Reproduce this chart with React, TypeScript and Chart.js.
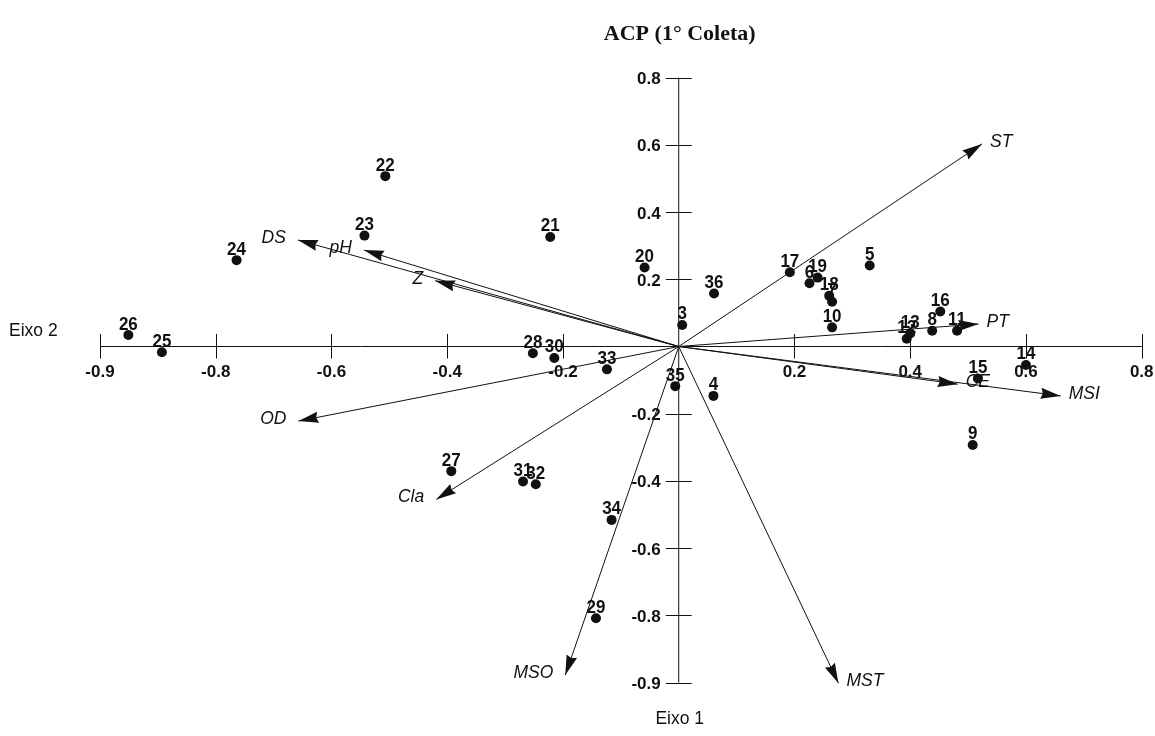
import { useEffect, useRef } from "react";
import { Chart, registerables } from "chart.js";

Chart.register(...registerables);

// Sample scores (horizontal = Eixo 2 direction, vertical = Eixo 1 direction)
const sampleIds = [
  "22", "23", "24", "21", "20", "36", "3", "17", "7", "6", "19", "18", "5", "10", "16",
  "12", "13", "8", "11", "14", "15", "9", "4", "35", "33", "30", "28", "26", "25",
  "27", "31", "32", "34", "29",
];
const sampleX = [
  -0.507, -0.543, -0.764, -0.222, -0.059, 0.061, 0.006, 0.192, 0.265, 0.226, 0.240, 0.260, 0.330, 0.265, 0.452,
  0.394, 0.400, 0.438, 0.481, 0.600, 0.517, 0.508, 0.060, -0.006, -0.124, -0.215, -0.252, -0.951, -0.893,
  -0.393, -0.269, -0.247, -0.116, -0.143,
];
const sampleY = [
  0.507, 0.330, 0.257, 0.326, 0.235, 0.158, 0.064, 0.221, 0.133, 0.188, 0.205, 0.151, 0.241, 0.057, 0.104,
  0.023, 0.039, 0.047, 0.047, -0.055, -0.095, -0.293, -0.147, -0.118, -0.068, -0.034, -0.020, 0.034, -0.017,
  -0.371, -0.402, -0.410, -0.516, -0.809,
];

// Variable loadings drawn as arrows from the origin
const variableNames = ["ST", "PT", "MSI", "CE", "MST", "MSO", "Cla", "OD", "DS", "pH", "Z"];
const variableX = [0.524, 0.518, 0.660, 0.482, 0.276, -0.196, -0.419, -0.657, -0.658, -0.544, -0.421];
const variableY = [0.603, 0.067, -0.147, -0.112, -1.002, -0.978, -0.455, -0.222, 0.317, 0.287, 0.196];

// Axis ticks
const xTickValues = [-1.0, -0.8, -0.6, -0.4, -0.2, 0.2, 0.4, 0.6, 0.8];
const xTickLabels = ["-0.9", "-0.8", "-0.6", "-0.4", "-0.2", "0.2", "0.4", "0.6", "0.8"];
const yTickValues = [0.8, 0.6, 0.4, 0.2, -0.2, -0.4, -0.6, -0.8, -1.0];
const yTickLabels = ["0.8", "0.6", "0.4", "0.2", "-0.2", "-0.4", "-0.6", "-0.8", "-0.9"];

const chartTitle = "ACP (1° Coleta)";
const horizontalAxisName = "Eixo 2";
const verticalAxisName = "Eixo 1";

const SANS = '"Liberation Sans", Arial, Helvetica, sans-serif';
const SERIF = '"Liberation Serif", "Times New Roman", serif';
const INK = "#111";

const biplotPlugin = {
  id: "biplot",
  beforeDatasetsDraw(chart: any) {
    const ctx = chart.ctx as CanvasRenderingContext2D;
    const xs = chart.scales.x;
    const ys = chart.scales.y;
    const ox = xs.getPixelForValue(0);
    const oy = ys.getPixelForValue(0);
    ctx.save();
    ctx.strokeStyle = INK;
    ctx.lineWidth = 1;
    ctx.beginPath();
    ctx.moveTo(xs.getPixelForValue(-1.0), oy);
    ctx.lineTo(xs.getPixelForValue(0.8), oy);
    ctx.moveTo(ox, ys.getPixelForValue(0.8));
    ctx.lineTo(ox, ys.getPixelForValue(-1.0));
    xTickValues.forEach((v) => {
      const px = Math.round(xs.getPixelForValue(v)) + 0.5;
      ctx.moveTo(px, oy - 12.5);
      ctx.lineTo(px, oy + 12);
    });
    yTickValues.forEach((v) => {
      const py = Math.round(ys.getPixelForValue(v)) + 0.5;
      ctx.moveTo(ox - 13, py);
      ctx.lineTo(ox + 13, py);
    });
    ctx.stroke();

    ctx.fillStyle = INK;
    ctx.font = `bold 17px ${SANS}`;
    ctx.textBaseline = "alphabetic";
    ctx.textAlign = "center";
    xTickValues.forEach((v, i) => {
      ctx.fillText(xTickLabels[i], xs.getPixelForValue(v), oy + 30.5);
    });
    ctx.textAlign = "right";
    yTickValues.forEach((v, i) => {
      ctx.fillText(yTickLabels[i], ox - 18, ys.getPixelForValue(v) + 6.5);
    });

    ctx.font = `17.5px ${SANS}`;
    ctx.textAlign = "left";
    ctx.fillText(horizontalAxisName, 9, oy - 10.5);
    ctx.textAlign = "center";
    ctx.fillText(verticalAxisName, ox + 1, 724);

    ctx.font = `bold 22px ${SERIF}`;
    ctx.fillText(chartTitle, ox + 1, 40);
    ctx.restore();
  },
  afterDatasetsDraw(chart: any) {
    const ctx = chart.ctx as CanvasRenderingContext2D;
    const xs = chart.scales.x;
    const ys = chart.scales.y;
    const ox = xs.getPixelForValue(0);
    const oy = ys.getPixelForValue(0);
    ctx.save();
    ctx.fillStyle = INK;

    // arrowheads and variable names
    variableNames.forEach((name, i) => {
      const tx = xs.getPixelForValue(variableX[i]);
      const ty = ys.getPixelForValue(variableY[i]);
      const ang = Math.atan2(ty - oy, tx - ox);
      const c = Math.cos(ang);
      const s = Math.sin(ang);
      const L = 20;
      const W = 5.5;
      ctx.beginPath();
      ctx.moveTo(tx, ty);
      ctx.lineTo(tx - L * c + W * s, ty - L * s - W * c);
      ctx.lineTo(tx - L * c * 0.9, ty - L * s * 0.9);
      ctx.lineTo(tx - L * c - W * s, ty - L * s + W * c);
      ctx.closePath();
      ctx.fill();

      ctx.font = `italic 17.5px ${SANS}`;
      ctx.textBaseline = "alphabetic";
      if (tx >= ox) {
        ctx.textAlign = "left";
        ctx.fillText(name, tx + 8, ty + 3);
      } else {
        ctx.textAlign = "right";
        ctx.fillText(name, tx - 12, ty + 3);
      }
    });

    // sample numbers above their dots
    ctx.font = `bold 17px ${SANS}`;
    ctx.textAlign = "center";
    ctx.textBaseline = "alphabetic";
    sampleIds.forEach((id, i) => {
      const px = xs.getPixelForValue(sampleX[i]);
      const py = ys.getPixelForValue(sampleY[i]);
      ctx.save();
      ctx.translate(px, py - 5.5);
      ctx.scale(1, 1.12);
      ctx.fillText(id, 0, 0);
      ctx.restore();
    });
    ctx.restore();
  },
};

export default function App() {
  const canvasRef = useRef<HTMLCanvasElement | null>(null);

  useEffect(() => {
    const canvas = canvasRef.current;
    if (!canvas) return;

    const vectorSets = variableNames.map((name, i) => ({
      label: name,
      data: [
        { x: 0, y: 0 },
        { x: variableX[i], y: variableY[i] },
      ],
      showLine: true,
      borderColor: INK,
      borderWidth: 1,
      pointRadius: 0,
      fill: false,
      clip: false as const,
      order: 2,
    }));

    const chart = new Chart(canvas, {
      type: "scatter",
      data: {
        datasets: [
          ...vectorSets,
          {
            label: "Amostras",
            data: sampleIds.map((_, i) => ({ x: sampleX[i], y: sampleY[i] })),
            pointRadius: 5,
            pointBackgroundColor: INK,
            pointBorderWidth: 0,
            showLine: false,
            clip: false as const,
            order: 1,
          },
        ],
      },
      options: {
        animation: false,
        responsive: true,
        maintainAspectRatio: false,
        events: [],
        layout: { padding: { left: 100, right: 13.3, top: 77.7, bottom: 53.5 } },
        plugins: {
          legend: { display: false },
          tooltip: { enabled: false },
          title: { display: false },
        },
        scales: {
          x: { type: "linear", min: -1.0, max: 0.8, display: false },
          y: { type: "linear", min: -1.0, max: 0.8, display: false },
        },
      },
      plugins: [biplotPlugin],
    });

    return () => chart.destroy();
  }, []);

  return (
    <div
      style={{
        position: "absolute",
        left: 0,
        top: 0,
        width: 1155,
        height: 736,
        background: "#fff",
      }}
    >
      <canvas ref={canvasRef} />
    </div>
  );
}
